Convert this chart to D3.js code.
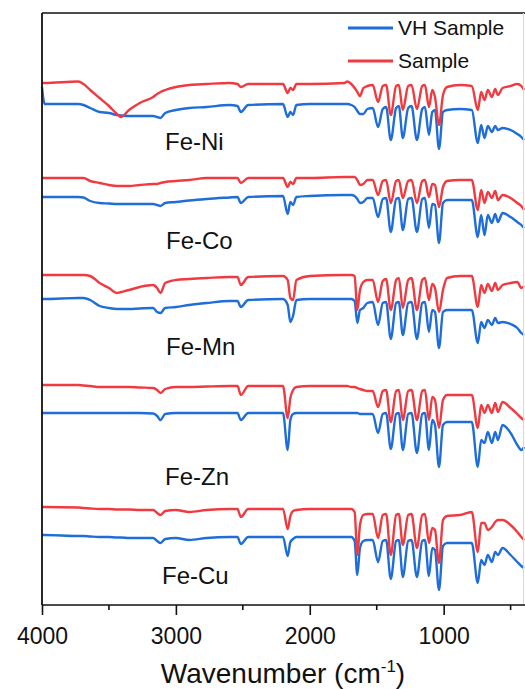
<!DOCTYPE html>
<html>
<head>
<meta charset="utf-8">
<script src="https://cdn.jsdelivr.net/npm/d3@7/dist/d3.min.js"></script>
<style>
  body { margin: 0; background: #fff; }
  text { font-family: "Liberation Sans", Arial, sans-serif; fill: #111; }
</style>
</head>
<body>
<div id="chart"></div>
<script>
const WIDTH = 525; //page width
const HEIGHT = 689; //page height

// wavenumber grid (cm-1), shared by every spectrum
const wavenumbers = [
  4000, 3980, 3730, 3690, 3640, 3570, 3500, 3440, 3410, 3350,
  3270, 3170, 3140, 3115, 3080, 3000, 2900, 2770, 2600, 2540,
  2515, 2460, 2200, 2165, 2145, 2125, 2100, 2000, 1740, 1720,
  1690, 1665, 1645, 1625, 1600, 1570, 1530, 1490, 1455, 1430,
  1395, 1355, 1335, 1305, 1265, 1240, 1200, 1160, 1140, 1110,
  1085, 1065, 1035, 1005, 975, 880, 790, 745, 720, 695,
  670, 640, 615, 595, 560, 500, 450, 420, 400
];

const samples = ["Fe-Ni", "Fe-Co", "Fe-Mn", "Fe-Zn", "Fe-Cu"];
const seriesNames = ["VH Sample", "Sample"];

// vertical offsets of each stacked trace (a.u.)
const offsetsVH = [50.1, 40.8, 30.6, 19.2, 7.0];
const offsetsSample = [52.2, 42.7, 33.0, 22.0, 9.8];

// transmittance relative to each trace's offset (a.u.)
const feNiVH = [
  1.7, 0, 0, -0.1, -0.4, -0.8, -0.9, -1.1, -1.15, -1.2,
  -1.2, -1.2, -1.3, -1.4, -0.9, -0.6, -0.4, -0.3, -0.1, -0.2,
  -0.8, -0.1, 0, -1.3, -0.8, -1.1, -0.1, 0, 0, 0,
  -0.1, -0.3, -0.7, -1.0, -1.0, -0.5, -0.4, -2.3, -0.5, -0.3,
  -3.6, -0.4, -0.2, -3.4, -0.4, -0.2, -3.6, -0.5, -0.3, -3.1,
  -0.8, -0.6, -4.5, -0.8, -0.6, -0.5, -0.6, -3.9, -2.1, -3.4,
  -2.2, -2.8, -2.2, -2.6, -2.4, -2.6, -3.0, -3.3, -3.6
];
const feNiSample = [
  0, 0, 0.15, -0.1, -0.7, -1.5, -2.3, -3.1, -3.4, -2.7,
  -2.0, -1.4, -1.1, -0.9, -0.7, -0.4, -0.2, -0.1, 0, -0.1,
  -0.4, -0.1, -0.1, -1.0, -0.5, -0.7, -0.1, -0.1, 0, 0.15,
  -0.1, -0.5, -0.9, -1.3, -0.5, -0.3, -0.2, -1.9, -0.3, -0.2,
  -3.2, -0.3, -0.2, -2.7, -0.3, -0.2, -2.6, -0.3, -0.2, -2.4,
  -0.7, -1.4, -4.2, -1.2, -0.4, -0.2, -0.3, -2.7, -0.9, -1.7,
  -0.7, -1.4, -0.6, -1.2, -0.5, -0.3, -0.1, -0.3, -0.7
];
const feCoVH = [
  0, 0, 0, -0.05, -0.4, -0.6, -0.65, -0.7, -0.7, -0.7,
  -0.7, -0.7, -0.8, -0.9, -0.6, -0.5, -0.35, -0.2, -0.05, 0,
  -0.6, 0, 0.1, -1.7, -0.5, -0.8, 0, 0.1, 0.2, 0.2,
  0.2, 0.1, -0.2, -0.6, -0.5, -0.1, -0.1, -2.0, -0.2, -0.1,
  -3.5, -0.2, -0.1, -3.3, -0.2, -0.1, -3.5, -0.2, -0.1, -3.1,
  -0.7, -0.8, -4.6, -0.6, -0.3, -0.3, -0.3, -4.0, -1.8, -3.8,
  -1.8, -2.6, -1.7, -2.5, -1.6, -2.0, -2.5, -2.8, -3.1
];
const feCoSample = [
  0, 0, 0, 0, -0.3, -0.5, -0.7, -0.8, -0.8, -0.8,
  -0.7, -0.6, -0.6, -0.5, -0.4, -0.3, -0.2, 0, 0, 0,
  -0.5, 0, 0, -0.9, -0.4, -0.6, 0, 0, 0.1, 0.1,
  0.1, 0.1, -0.2, -0.7, -0.6, -0.2, -0.2, -1.7, -0.3, -0.2,
  -2.5, -0.3, -0.2, -2.0, -0.3, -0.2, -2.5, -0.3, -0.2, -1.9,
  -0.6, -0.7, -2.9, -0.9, -0.3, -0.2, -0.2, -3.2, -1.2, -2.5,
  -1.4, -2.0, -1.3, -2.2, -1.7, -2.0, -2.5, -2.8, -3.2
];
const feMnVH = [
  0, 0, 0.1, 0.1, -0.1, -0.7, -0.9, -1.0, -1.0, -1.0,
  -0.95, -0.9, -1.3, -1.4, -0.9, -0.8, -0.6, -0.4, -0.2, -0.2,
  -0.8, -0.1, 0, -0.6, -2.3, -1.7, -0.1, 0, 0, 0,
  0, -0.2, -2.4, -1.1, -0.9, -0.4, -0.3, -2.6, -0.4, -0.3,
  -4.0, -0.4, -0.3, -3.6, -0.4, -0.3, -4.0, -0.4, -0.3, -3.3,
  -1.1, -1.3, -4.9, -1.3, -1.1, -1.1, -1.1, -4.4, -2.3, -2.9,
  -2.1, -2.6, -1.9, -2.4, -2.3, -2.5, -2.9, -3.4, -3.6
];
const feMnSample = [
  0, 0, 0, 0, -0.1, -0.8, -1.3, -1.8, -1.7, -1.5,
  -1.2, -1.0, -1.3, -1.8, -0.8, -0.5, -0.4, -0.3, -0.2, -0.2,
  -1.0, -0.2, -0.1, -0.5, -2.3, -2.5, -0.5, -0.1, 0, 0,
  0, -0.1, -3.5, -1.5, -0.7, -0.5, -0.5, -2.7, -0.6, -0.4,
  -3.5, -0.5, -0.3, -3.3, -0.5, -0.3, -3.5, -0.5, -0.3, -2.5,
  -0.9, -1.3, -3.7, -1.5, -0.3, -0.1, -0.1, -3.2, -1.0, -1.8,
  -0.9, -1.6, -0.8, -1.5, -1.0, -0.8, -0.7, -1.3, -1.1
];
const feZnVH = [
  0, 0, 0, 0, 0, 0, 0, 0, 0, 0,
  0, -0.05, -0.3, -0.7, -0.1, 0, 0, 0, 0, 0,
  -0.7, 0, 0, -3.7, -0.7, -0.1, 0, 0, 0, 0,
  0, 0, 0, -0.1, -0.1, -0.1, -0.1, -2.0, -0.1, 0,
  -3.6, -0.1, 0, -3.7, -0.1, 0, -4.0, -0.1, 0, -3.7,
  -0.7, -1.2, -5.4, -1.2, -0.9, -0.9, -0.9, -5.4, -2.7, -3.0,
  -1.9, -3.0, -1.9, -2.7, -1.2, -2.0, -3.2, -3.7, -3.4
];
const feZnSample = [
  0, 0, 0, -0.05, -0.1, -0.2, -0.2, -0.2, -0.2, -0.2,
  -0.25, -0.3, -0.5, -0.8, -0.4, -0.2, -0.2, -0.15, -0.1, -0.1,
  -1.0, -0.1, -0.1, -3.3, -1.3, -0.5, -0.2, -0.1, -0.1, -0.1,
  -0.2, -0.2, -0.3, -0.4, -0.5, -0.6, -0.6, -2.2, -0.6, -0.5,
  -3.7, -0.6, -0.5, -3.5, -0.6, -0.5, -3.5, -0.6, -0.5, -3.5,
  -1.2, -1.5, -4.3, -1.5, -1.0, -1.0, -1.0, -4.3, -2.0, -2.8,
  -2.0, -2.8, -1.8, -2.7, -1.7, -2.3, -2.9, -3.3, -3.5
];
const feCuVH = [
  0, 0, -0.1, -0.1, -0.15, -0.2, -0.2, -0.25, -0.25, -0.3,
  -0.3, -0.3, -0.6, -0.8, -0.4, -0.3, -0.5, -0.3, -0.2, -0.2,
  -0.9, -0.2, -0.2, -2.1, -0.7, -0.4, -0.2, -0.2, -0.2, -0.2,
  -0.2, -0.6, -4.0, -1.3, -0.6, -0.5, -0.5, -2.7, -0.6, -0.5,
  -4.4, -0.6, -0.5, -4.2, -0.6, -0.5, -4.2, -0.6, -0.5, -4.1,
  -1.3, -1.5, -5.5, -1.1, -0.8, -0.8, -0.8, -4.8, -2.5, -3.0,
  -2.0, -2.7, -1.7, -2.0, -1.3, -2.0, -2.7, -3.1, -3.3
];
const feCuSample = [
  0, 0, -0.05, -0.1, -0.15, -0.2, -0.2, -0.25, -0.25, -0.25,
  -0.3, -0.3, -0.6, -0.8, -0.4, -0.3, -0.5, -0.3, -0.2, -0.2,
  -1.0, -0.2, -0.2, -2.2, -0.9, -0.4, -0.3, -0.2, -0.2, -0.2,
  -0.2, -0.5, -4.8, -1.8, -0.8, -0.7, -0.7, -3.1, -0.8, -0.7,
  -4.8, -0.8, -0.7, -3.8, -0.8, -0.7, -4.1, -0.8, -0.7, -3.6,
  -2.1, -2.3, -5.6, -1.3, -0.9, -0.8, -0.5, -4.5, -1.6, -1.6,
  -2.3, -2.0, -1.5, -1.3, -1.3, -1.8, -2.5, -3.0, -3.3
];

const valuesVH = [feNiVH, feCoVH, feMnVH, feZnVH, feCuVH];
const valuesSample = [feNiSample, feCoSample, feMnSample, feZnSample, feCuSample];

const xTicks = [4000, 3000, 2000, 1000]; //labelled ticks
const xMinorTicks = [3500, 2500, 1500, 500];

const COLORS = { "VH Sample": "#1f6dd8", "Sample": "#f03a40" };

// layout
const margin = { top: 13, left: 42, right: 1, bottom: 84 };
const labelPos = [[165, 150], [166, 249], [166, 355], [165, 485], [162, 584]]; //sample name spots

const x = d3.scaleLinear() //wavenumber runs high -> low
  .domain([4000, 400])
  .range([margin.left, WIDTH - margin.right]);

const y = d3.scaleLinear() //arbitrary transmittance units
  .domain([0, 59.2])
  .range([HEIGHT - margin.bottom, margin.top]);

const svg = d3.select("#chart")
  .append("svg")
  .attr("width", WIDTH)
  .attr("height", HEIGHT);

// build the traces: blue first, red on top
var traces = [];
samples.forEach((s, i) => {
  traces.push({ name: "VH Sample", pts: wavenumbers.map((w, j) => [w, offsetsVH[i] + valuesVH[i][j]]) });
});
samples.forEach((s, i) => {
  traces.push({ name: "Sample", pts: wavenumbers.map((w, j) => [w, offsetsSample[i] + valuesSample[i][j]]) });
});

const line = d3.line()
  .x(d => x(d[0]))
  .y(d => y(d[1]))
  .curve(d3.curveMonotoneX);

svg.append("g")
  .selectAll("path")
  .data(traces)
  .enter()
  .append("path")
  .attr("d", d => line(d.pts))
  .attr("fill", "none")
  .attr("stroke", d => COLORS[d.name])
  .attr("stroke-width", 2.4)
  .attr("stroke-linejoin", "round");

// frame: top, left and faint right edge
svg.append("line")
  .attr("x1", x(4000)).attr("x2", WIDTH)
  .attr("y1", y(59.2)).attr("y2", y(59.2))
  .attr("stroke", "#111").attr("stroke-width", 1.6);
svg.append("line")
  .attr("x1", x(4000)).attr("x2", x(4000))
  .attr("y1", y(59.2)).attr("y2", y(0))
  .attr("stroke", "#111").attr("stroke-width", 1.8);
svg.append("line")
  .attr("x1", x(400) - 0.5).attr("x2", x(400) - 0.5)
  .attr("y1", y(59.2)).attr("y2", y(0))
  .attr("stroke", "#d8d8d8").attr("stroke-width", 1);

// bottom axis
const axis = svg.append("g")
  .attr("transform", "translate(0," + y(0) + ")")
  .call(d3.axisBottom(x).tickValues(xTicks).tickSize(10).tickSizeOuter(0).tickPadding(13).tickFormat(d3.format("d")));
axis.select(".domain").attr("stroke", "#111").attr("stroke-width", 1.6)
  .attr("d", "M" + x(4000) + ",0H" + WIDTH);
axis.selectAll(".tick line").attr("stroke", "#111").attr("stroke-width", 1.6);
axis.selectAll(".tick text")
  .style("font-family", "'Liberation Sans', Arial, sans-serif")
  .style("font-size", "23px")
  .attr("fill", "#111");

svg.append("g")
  .attr("transform", "translate(0," + y(0) + ")")
  .selectAll("line")
  .data(xMinorTicks)
  .enter()
  .append("line")
  .attr("x1", d => x(d)).attr("x2", d => x(d))
  .attr("y1", 0).attr("y2", 5)
  .attr("stroke", "#111").attr("stroke-width", 1.6);

// axis title with superscript
var title = svg.append("text")
  .attr("x", (x(4000) + x(400)) / 2)
  .attr("y", 683)
  .attr("text-anchor", "middle")
  .style("font-size", "28px");
title.append("tspan").text("Wavenumber (cm");
title.append("tspan").attr("dy", -11).style("font-size", "17px").text("-1");
title.append("tspan").attr("dy", 11).text(")");

// sample names
svg.append("g")
  .selectAll("text")
  .data(samples)
  .enter()
  .append("text")
  .attr("x", (d, i) => labelPos[i][0])
  .attr("y", (d, i) => labelPos[i][1])
  .style("font-size", "24px")
  .text(d => d);

// legend
var legend = svg.append("g")
  .selectAll("g")
  .data(seriesNames)
  .enter()
  .append("g")
  .attr("transform", (d, i) => "translate(348," + (28 + i * 33) + ")");
legend.append("line")
  .attr("x1", 0).attr("x2", 45)
  .attr("stroke", d => COLORS[d])
  .attr("stroke-width", 3);
legend.append("text")
  .attr("x", 50)
  .attr("y", 7)
  .style("font-size", "21px")
  .text(d => d);
</script>
</body>
</html>
